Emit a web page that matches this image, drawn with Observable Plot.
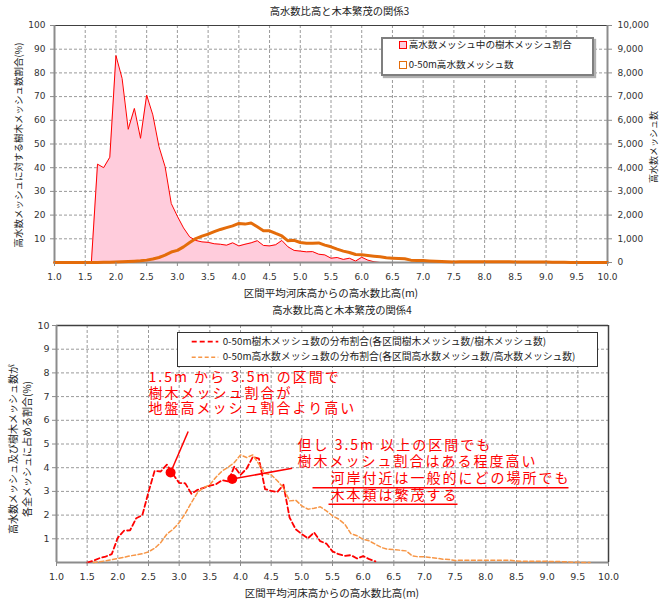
<!DOCTYPE html>
<html><head><meta charset="utf-8">
<script src="https://cdn.jsdelivr.net/npm/d3@7"></script>
<script src="https://cdn.jsdelivr.net/npm/@observablehq/plot@0.6"></script>
<style>
body{margin:0;background:#fff;}
#wrap{position:relative;width:672px;height:599px;overflow:hidden;font-family:"Noto Sans CJK JP","Noto Sans",sans-serif;color:#222;}
.abs{position:absolute;white-space:nowrap;line-height:1;}
.c{transform:translate(-50%,-50%);}
.v{transform:translate(-50%,-50%) rotate(-90deg);}
.l{transform:translate(0,-50%);}
#c1{position:absolute;left:0;top:0;}
#c2{position:absolute;left:0;top:300px;}
#c2 g[aria-label="text"] text{letter-spacing:2px;}
.lg1{position:absolute;left:381px;top:37px;width:209px;height:35px;border:2px solid #7f7f7f;background:#fff;box-shadow:2px 2px 1px #b0b0b0;}
.lg2{position:absolute;left:177px;top:332px;width:419px;height:33px;border:1.5px solid #333;background:#fff;}
.sq{position:absolute;width:6px;height:6px;transform:translate(-50%,-50%);}
</style></head>
<body>
<div id="wrap">
  <div id="c1"></div>
  <div id="c2"></div>
</div>
<script>
// ---------- DATA ----------
const heightBins = [1.0,1.1,1.2,1.3,1.4,1.5,1.6,1.7,1.8,1.9,
  2.0,2.1,2.2,2.3,2.4,2.5,2.6,2.7,2.8,2.9,
  3.0,3.1,3.2,3.3,3.4,3.5,3.6,3.7,3.8,3.9,
  4.0,4.1,4.2,4.3,4.4,4.5,4.6,4.7,4.8,4.9,
  5.0,5.1,5.2,5.3,5.4,5.5,5.6,5.7,5.8,5.9,
  6.0,6.1,6.2,6.3,6.4,6.5,6.6,6.7,6.8,6.9,
  7.0,7.1,7.2,7.3,7.4,7.5,7.6,7.7,7.8,7.9,
  8.0,8.1,8.2,8.3,8.4,8.5,8.6,8.7,8.8,8.9,
  9.0,9.1,9.2,9.3,9.4,9.5,9.6,9.7,9.8,9.9,
  10.0];

// Chart 3: share of tree meshes within flood-terrace meshes (%)
const treeRatioPct = [0,0,0,0,0,0,0,41.5,40.0,44.4,
  87.3,77.7,56.2,65.0,52.4,70.6,62.3,48.9,40.4,24.9,
  19.5,14.6,10.8,9.3,8.7,8.5,7.9,7.7,7.3,8.3,
  7.0,7.7,8.3,9.2,7.2,7.0,7.5,9.3,6.6,5.1,
  4.8,4.5,4.6,3.5,3.2,1.8,2.1,1.3,1.8,0.6,
  2.2,1.0,0.3,0,0,0,0,0,0,0,
  0,0,0,0,0,0,0,0,0,0,
  0,0,0,0,0,0,0,0,0,0,
  0,0,0,0,0,0,0,0,0,0,
  0];
// Chart 3: number of 0-50m flood-terrace meshes
const floodMeshCount = [0,0,0,0,0,0,0,5,10,15,
  25,35,45,55,70,100,150,210,310,440,
  510,660,840,1010,1110,1195,1300,1395,1470,1545,
  1650,1620,1665,1505,1338,1338,1225,1120,915,935,
  845,810,810,825,732,662,563,479,423,338,
  324,296,268,240,197,183,169,155,99,85,
  80,65,55,45,35,25,35,35,35,35,
  33,35,33,33,33,22,18,18,18,18,
  18,15,15,11,4,4,0,0,0,0,
  0];
// Chart 4: distribution shares (%)
const treeShare = [null,null,null,null,null,0,0.07,0.18,0.25,0.35,
  1.05,1.34,1.36,1.87,2.0,2.97,3.87,3.84,4.13,3.72,
  3.36,3.34,2.9,3.07,3.15,3.24,3.3,3.47,3.42,4.05,
  3.7,3.96,4.45,4.38,3.1,3.02,2.97,3.28,1.9,1.4,
  1.2,1.02,1.27,0.9,0.8,0.47,0.35,0.28,0.31,0.17,
  0.27,0.14,0.05,null,null,null,null,null,null,null,
  null,null,null,null,null,null,null,null,null,null,
  null,null,null,null,null,null,null,null,null,null,
  null,null,null,null,null,null,null,null,null,null,
  null];
const floodShare = [null,null,null,null,null,null,0,0.03,0.07,0.12,
  0.17,0.22,0.28,0.32,0.37,0.45,0.6,0.84,1.2,1.4,
  1.68,2.07,2.53,2.95,3.16,3.28,3.6,3.86,4.02,4.22,
  4.54,4.43,4.54,4.15,3.75,3.7,3.45,3.16,2.6,2.63,
  2.39,2.25,2.29,2.35,2.18,1.97,1.83,1.62,1.22,1.13,
  0.98,0.91,0.77,0.63,0.56,0.55,0.52,0.49,0.28,0.24,
  0.24,0.21,0.18,0.14,0.13,0.08,0.1,0.1,0.1,0.1,
  0.09,0.1,0.09,0.09,0.09,0.06,0.05,0.05,0.05,0.05,
  0.05,0.04,0.04,0.03,0.01,0.01,0,0,null,null,
  null];

// tick labels
const xTicks = [1.0,1.5,2.0,2.5,3.0,3.5,4.0,4.5,5.0,5.5,6.0,6.5,7.0,7.5,8.0,8.5,9.0,9.5,10.0];
const ratioTicks = [10,20,30,40,50,60,70,80,90,100];
const countTicks = [0,1000,2000,3000,4000,5000,6000,7000,8000,9000,10000];
const shareTicks = [1,2,3,4,5,6,7,8,9,10];

// texts
const title3 = "高水数比高と木本繁茂の関係3";
const title4 = "高水数比高と木本繁茂の関係4";
const xTitle = "区間平均河床高からの高水数比高(m)";
const yTitle3L = "高水数メッシュに対する樹木メッシュ数割合(%)";
const yTitle3R = "高水数メッシュ数";
const yTitle4 = ["高水数メッシュ及び樹木メッシュ数が", "各全メッシュに占める割合(%)"];
const legend3 = ["高水数メッシュ中の樹木メッシュ割合", "0-50m高水数メッシュ数"];
const legend4 = ["0-50m樹木メッシュ数の分布割合(各区間樹木メッシュ数/樹木メッシュ数)", "0-50m高水数メッシュ数の分布割合(各区間高水数メッシュ数/高水数メッシュ数)"];
const noteA = ["1.5m から 3.5m の区間で", "樹木メッシュ割合が", "地盤高メッシュ割合より高い"];
const noteB = ["但し 3.5m 以上の区間でも", "樹木メッシュ割合はある程度高い", "河岸付近は一般的にどの場所でも", "木本類は繁茂する"];

// ---------- BUILD ----------
const rows = heightBins.map((x, i) => ({x, ratio: treeRatioPct[i], count: floodMeshCount[i], tree: treeShare[i], flood: floodShare[i]}));
const xGrid = xTicks.filter(v => v > 1 && v < 10);
const numFont = "DejaVu Sans, sans-serif";
const jpFont = "Noto Sans CJK JP, sans-serif";
const gridStyle = {stroke: "#9a9a9a", strokeOpacity: 1, strokeDasharray: "3,2", strokeWidth: 1};

const chart1 = Plot.plot({
  width: 672, height: 300,
  marginLeft: 54, marginRight: 65, marginTop: 25, marginBottom: 38,
  x: {domain: [1, 10]},
  y: {domain: [0, 100]},
  style: {fontFamily: numFont, fontSize: "9px", color: "#333", background: "transparent", overflow: "visible"},
  marks: [
    Plot.gridX(xGrid, gridStyle),
    Plot.gridY(ratioTicks.filter(v => v < 100), gridStyle),
    Plot.areaY(rows, {x: "x", y: "ratio", fill: "#ffccdc"}),
    Plot.lineY(rows, {x: "x", y: "ratio", stroke: "#ff0000", strokeWidth: 1}),
    Plot.ruleY([100], {stroke: "#404040", strokeWidth: 1}),
    Plot.ruleX([1], {stroke: "#8c8c8c", strokeWidth: 2}),
    Plot.ruleX([10], {stroke: "#8c8c8c", strokeWidth: 2}),
    Plot.ruleY([0], {stroke: "#8c8c8c", strokeWidth: 2}),
    Plot.lineY(rows, {x: "x", y: d => d.count / 100, stroke: "#e46c0a", strokeWidth: 3}),
    Plot.axisX(xTicks, {anchor: "bottom", tickFormat: d3.format(".1f"), tickSize: 4, tickPadding: 7, label: null, stroke: "#8c8c8c"}),
    Plot.axisY(ratioTicks, {anchor: "left", tickSize: 4, tickPadding: 5, label: null, stroke: "#8c8c8c"}),
    Plot.axisY(countTicks.map(v => v / 100), {anchor: "right", tickSize: 4, tickPadding: 6, tickFormat: d => d3.format(",")(d * 100), label: null, stroke: "#8c8c8c"})
  ]
});
document.getElementById("c1").append(chart1);

const markers = [{x: 2.86, y: 3.80}, {x: 3.865, y: 3.52}];
const pointers = [{x1: 2.86, y1: 3.80, x2: 3.147, y2: 5.53}, {x1: 3.865, y1: 3.52, x2: 4.843, y2: 3.98}];
const noteRows = [
  {x: 2.5, y: 7.79, t: noteA[0]}, {x: 2.5, y: 7.14, t: noteA[1]}, {x: 2.5, y: 6.485, t: noteA[2]},
  {x: 4.93, y: 4.92, t: noteB[0]}, {x: 4.93, y: 4.25, t: noteB[1]},
  {x: 5.467, y: 3.55, t: noteB[2]}, {x: 5.467, y: 2.835, t: noteB[3]}
];
const underlines = [{x1: 5.174, x2: 9.348, y: 3.15}, {x1: 5.435, x2: 7.538, y: 2.456}];

const chart2 = Plot.plot({
  width: 672, height: 299,
  marginLeft: 56, marginRight: 64, marginTop: 25, marginBottom: 37,
  x: {domain: [1, 10]},
  y: {domain: [0, 10]},
  style: {fontFamily: numFont, fontSize: "9.5px", color: "#333", background: "transparent", overflow: "visible"},
  marks: [
    Plot.gridX(xGrid, gridStyle),
    Plot.gridY(shareTicks.filter(v => v < 10), gridStyle),
    Plot.ruleY([10], {stroke: "#404040", strokeWidth: 1.5}),
    Plot.ruleX([10], {stroke: "#404040", strokeWidth: 1.5}),
    Plot.ruleX([1], {stroke: "#8c8c8c", strokeWidth: 2}),
    Plot.ruleY([0], {stroke: "#8c8c8c", strokeWidth: 2}),
    Plot.lineY(rows, {x: "x", y: "tree", stroke: "#ff0000", strokeWidth: 1.8, strokeDasharray: "5,3"}),
    Plot.lineY(rows, {x: "x", y: "flood", stroke: "#f79646", strokeWidth: 1.5, strokeDasharray: "4,2.5"}),
    Plot.axisX(xTicks, {anchor: "bottom", tickFormat: d3.format(".1f"), tickSize: 4, tickPadding: 7, label: null, stroke: "#8c8c8c"}),
    Plot.axisY(shareTicks, {anchor: "left", tickSize: 4, tickPadding: 3, label: null, stroke: "#8c8c8c"}),
    Plot.link(pointers, {x1: "x1", y1: "y1", x2: "x2", y2: "y2", stroke: "#ff0000", strokeWidth: 1.5}),
    Plot.dot(markers, {x: "x", y: "y", r: 5, fill: "#ff0000"}),
    Plot.link(underlines, {x1: "x1", x2: "x2", y1: "y", y2: "y", stroke: "#ff0000", strokeWidth: 1.5}),
    Plot.text(noteRows, {x: "x", y: "y", text: "t", fill: "#ff0000", fontSize: 14, textAnchor: "start", fontFamily: jpFont})
  ]
});
document.getElementById("c2").append(chart2);

// ---------- HTML TEXTS / LEGENDS ----------
const wrap = document.getElementById("wrap");
function addText(txt, cls, x, y, size, extra) {
  const d = document.createElement("div");
  d.className = "abs " + cls;
  d.style.left = x + "px"; d.style.top = y + "px"; d.style.fontSize = size + "px";
  if (extra) Object.assign(d.style, extra);
  d.textContent = txt;
  wrap.append(d);
  return d;
}
addText(title3, "c", 339.5, 11, 10.3);
addText(xTitle, "c", 331, 293, 10.5);
addText(yTitle3L, "v", 19, 145, 9.5);
addText(yTitle3R, "v", 653, 147, 9);
addText(title4, "c", 342, 310, 10.3);
addText(xTitle, "c", 332, 593, 10.5);
addText(yTitle4[0], "v", 13, 449, 10);
addText(yTitle4[1], "v", 26.5, 448.5, 10);

// legend 3
const lg1 = document.createElement("div"); lg1.className = "lg1"; wrap.append(lg1);
const sq1 = document.createElement("div"); sq1.className = "sq";
Object.assign(sq1.style, {left: "402.7px", top: "45px", background: "#ffccdc", border: "1.5px solid #ff0000"});
wrap.append(sq1);
const sq2 = document.createElement("div"); sq2.className = "sq";
Object.assign(sq2.style, {left: "402.7px", top: "65px", background: "#fff", border: "1.5px solid #e46c0a"});
wrap.append(sq2);
addText(legend3[0], "l", 408.7, 45, 9.6);
addText(legend3[1], "l", 408.7, 65, 9.6);

// legend 4
const lg2 = document.createElement("div"); lg2.className = "lg2"; wrap.append(lg2);
const ns = "http://www.w3.org/2000/svg";
const sw = document.createElementNS(ns, "svg");
sw.setAttribute("width", 672); sw.setAttribute("height", 599);
Object.assign(sw.style, {position: "absolute", left: "0", top: "0", pointerEvents: "none"});
[[341.7, "#ff0000", 1.8, "5,3"], [357.3, "#f79646", 1.5, "4,2.5"]].forEach(([y, c, w, da]) => {
  const ln = document.createElementNS(ns, "line");
  ln.setAttribute("x1", 191.7); ln.setAttribute("x2", 218.3);
  ln.setAttribute("y1", y); ln.setAttribute("y2", y);
  ln.setAttribute("stroke", c); ln.setAttribute("stroke-width", w); ln.setAttribute("stroke-dasharray", da);
  sw.append(ln);
});
wrap.append(sw);
addText(legend4[0], "l", 222.7, 341.7, 9.8);
addText(legend4[1], "l", 222.7, 357.3, 9.8);
</script>
</body></html>
